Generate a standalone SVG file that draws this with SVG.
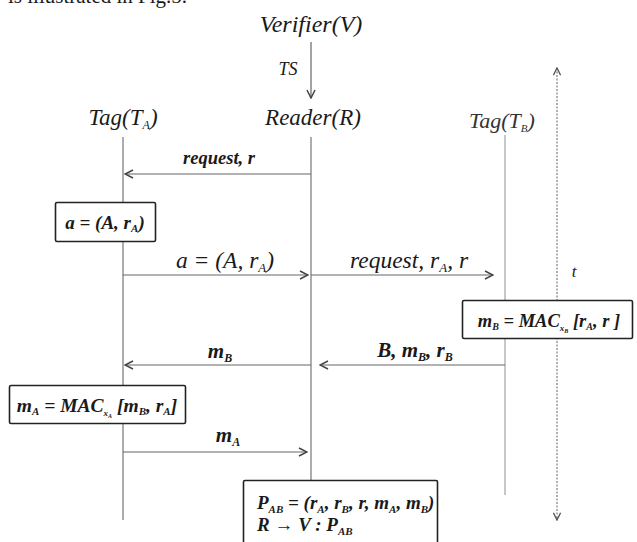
<svg xmlns="http://www.w3.org/2000/svg" width="637" height="542" viewBox="0 0 637 542">
<defs>
<style>
text{font-family:"Liberation Serif","Times New Roman",serif;font-style:italic;fill:#1a1a1a}
.b{font-weight:bold}
.life{stroke:#808080;stroke-width:1.3;fill:none}
.msg{stroke:#666;stroke-width:1.2;fill:none;marker-end:url(#ah)}
.box{fill:#fff;stroke:#222;stroke-width:1.6}
</style>
<marker id="ah" viewBox="0 0 10 10" refX="9" refY="5" markerWidth="10" markerHeight="10" markerUnits="userSpaceOnUse" orient="auto">
<path d="M1,1 L9,5 L1,9" fill="none" stroke="#444" stroke-width="1.5"/>
</marker>
<marker id="dh" viewBox="0 0 10 10" refX="9" refY="5" markerWidth="9" markerHeight="9" markerUnits="userSpaceOnUse" orient="auto-start-reverse">
<path d="M1,1 L9,5 L1,9" fill="none" stroke="#555" stroke-width="1.5"/>
</marker>
</defs>
<rect width="637" height="542" fill="#fff"/>
<text x="8" y="3" font-size="21" style="font-style:normal">is illustrated in Fig.5.</text>

<g id="connectors">
<line class="life" x1="123" y1="137" x2="123" y2="520"/>
<line class="life" x1="311" y1="137" x2="311" y2="480"/>
<line x1="505" y1="135" x2="505" y2="495" stroke="#aaa" stroke-width="1.3"/>
<line x1="311" y1="42" x2="311" y2="98" class="msg"/>
<line x1="557" y1="68" x2="557" y2="520" stroke="#888" stroke-width="1.3" stroke-dasharray="2,1.5" marker-start="url(#dh)" marker-end="url(#dh)"/>
<line class="msg" x1="311" y1="174" x2="125" y2="174"/>
<line class="msg" x1="123" y1="275" x2="308" y2="275"/>
<line class="msg" x1="311" y1="275" x2="493" y2="275"/>
<line class="msg" x1="505" y1="365" x2="320" y2="365"/>
<line class="msg" x1="311" y1="365" x2="125" y2="365"/>
<line class="msg" x1="123" y1="452" x2="307" y2="452"/>
</g>

<g id="verifier"><text x="311" y="32" font-size="24" text-anchor="middle">Verifier(V)</text></g>
<g id="ts-label"><text x="288" y="75" font-size="18" text-anchor="middle">TS</text></g>
<g id="tagA"><text x="123" y="125" font-size="23" text-anchor="middle">Tag(T<tspan font-size="12" dy="4">A</tspan><tspan dy="-4">)</tspan></text></g>
<g id="reader"><text x="313" y="125" font-size="23" text-anchor="middle">Reader(R)</text></g>
<g id="tagB"><text x="502" y="128" font-size="22" text-anchor="middle" style="fill:#333">Tag(T<tspan font-size="11" dy="4">B</tspan><tspan dy="-4">)</tspan></text></g>

<g id="lbl-request"><text class="b" x="219" y="164" font-size="18.5" text-anchor="middle">request, r</text></g>

<g id="box-a">
<rect class="box" x="55.5" y="202.5" width="100" height="39" rx="1.5"/>
<text class="b" x="105" y="229" font-size="19" text-anchor="middle">a = (A, r<tspan font-size="11" dy="3">A</tspan><tspan dy="-3">)</tspan></text>
</g>

<g id="lbl-a"><text x="225" y="268" font-size="23.5" text-anchor="middle">a = (A, r<tspan font-size="13" dy="4">A</tspan><tspan dy="-4">)</tspan></text></g>
<g id="lbl-req2"><text x="409" y="268" font-size="23.5" text-anchor="middle">request, r<tspan font-size="13" dy="4">A</tspan><tspan dy="-4">, r</tspan></text></g>
<g id="lbl-t"><text x="574" y="277" font-size="17" text-anchor="middle">t</text></g>

<g id="box-mB">
<rect class="box" x="462.5" y="300.5" width="170" height="38" rx="1.5"/>
<text class="b" x="549" y="327" font-size="18.5" text-anchor="middle">m<tspan font-size="10" dy="3">B</tspan><tspan dy="-3"> = MAC</tspan><tspan font-size="9" dy="4">x</tspan><tspan font-size="6" dy="2">B</tspan><tspan dy="-6"> [r</tspan><tspan font-size="10" dy="3">A</tspan><tspan dy="-3">, r ]</tspan></text>
</g>

<g id="lbl-B"><text class="b" x="415" y="357" font-size="21" text-anchor="middle">B, m<tspan font-size="12" dy="4">B</tspan><tspan dy="-4">, r</tspan><tspan font-size="12" dy="4">B</tspan></text></g>
<g id="lbl-mB"><text class="b" x="220" y="358" font-size="21" text-anchor="middle">m<tspan font-size="12" dy="4">B</tspan></text></g>

<g id="box-mA">
<rect class="box" x="9.5" y="385.5" width="176" height="38" rx="1.5"/>
<text class="b" x="97" y="412" font-size="19.5" text-anchor="middle">m<tspan font-size="11" dy="3">A</tspan><tspan dy="-3"> = MAC</tspan><tspan font-size="9" dy="4">x</tspan><tspan font-size="6" dy="2">A</tspan><tspan dy="-6"> [m</tspan><tspan font-size="11" dy="3">B</tspan><tspan dy="-3">, r</tspan><tspan font-size="11" dy="3">A</tspan><tspan dy="-3">]</tspan></text>
</g>

<g id="lbl-mA"><text class="b" x="228" y="442" font-size="21" text-anchor="middle">m<tspan font-size="12" dy="4">A</tspan></text></g>

<g id="box-P">
<rect class="box" x="243.5" y="480.5" width="194" height="70" rx="1.5"/>
<text class="b" x="257" y="509" font-size="19">P<tspan font-size="11" dy="4">AB</tspan><tspan dy="-4"> = (r</tspan><tspan font-size="11" dy="4">A</tspan><tspan dy="-4">, r</tspan><tspan font-size="11" dy="4">B</tspan><tspan dy="-4">, r, m</tspan><tspan font-size="11" dy="4">A</tspan><tspan dy="-4">, m</tspan><tspan font-size="11" dy="4">B</tspan><tspan dy="-4">)</tspan></text>
<text class="b" x="257" y="531" font-size="19">R → V : P<tspan font-size="11" dy="4">AB</tspan></text>
</g>
</svg>
